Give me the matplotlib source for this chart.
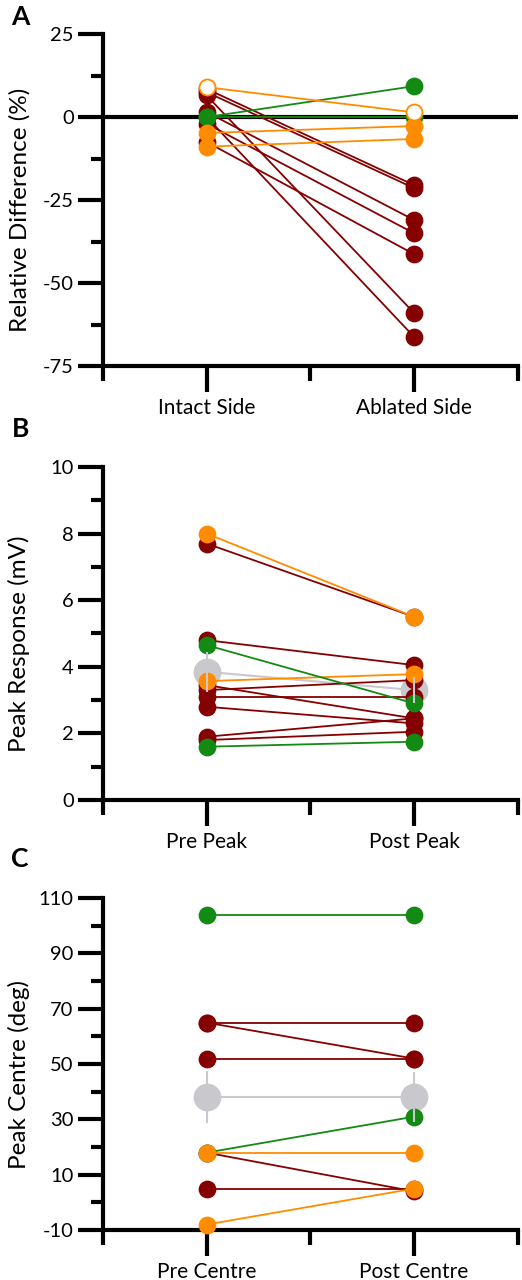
import matplotlib.pyplot as plt
from matplotlib.ticker import FixedLocator

plt.rcParams['font.family'] = ['Lato', 'DejaVu Sans']
plt.rcParams['axes.unicode_minus'] = False

RED = '#850000'
ORANGE = '#ff8c00'
GREEN = '#138a13'
GREY = '#c9c8cc'
COLORS = {'r': RED, 'o': ORANGE, 'w': ORANGE, 'g': GREEN}

# Panel A: relative difference (%)
a_labels = ['Intact Side', 'Ablated Side']
a_kind = ['r', 'r', 'r', 'r', 'r', 'r', 'r', 'g', 'g', 'o', 'o', 'w']
a_pre = [8.5, 7.5, 6.5, 1.5, 0.0, -2.0, -7.5, 0.0, 0.0, -4.8, -8.9, 9.0]
a_post = [-20.5, -21.4, -59.0, -31.0, -66.2, -35.0, -41.3, 9.3, 0.0, -2.7, -6.6, 1.4]

# Panel B: peak response (mV)
b_labels = ['Pre Peak', 'Post Peak']
b_kind = ['r', 'r', 'r', 'r', 'r', 'r', 'r', 'r', 'o', 'o', 'g', 'g']
b_pre = [7.7, 4.8, 3.3, 3.1, 3.45, 2.8, 1.9, 1.8, 8.0, 3.57, 4.65, 1.6]
b_post = [5.5, 4.05, 3.6, 3.1, 2.45, 2.3, 2.45, 2.05, 5.5, 3.78, 2.9, 1.75]
b_mean = [3.85, 3.3]
b_sem = [0.6, 0.4]

# Panel C: peak centre (deg)
c_labels = ['Pre Centre', 'Post Centre']
c_kind = ['r', 'r', 'r', 'r', 'r', 'g', 'g', 'o', 'o']
c_pre = [65, 65, 52, 18, 5, 104, 18, 18, -8]
c_post = [65, 52, 52, 4, 5, 104, 31, 18, 5]
c_mean = [38, 38]
c_sem = [9.4, 9.0]


def draw_panel(ax, pre, post, kind, labels, ylabel, ylim, major, minor,
               mean=None, sem=None, zero_line=False):
    if zero_line:
        ax.axhline(0, color='black', lw=3, zorder=1)
    if mean is not None:
        ax.plot([1, 2], mean, color=GREY, lw=1.5, marker='o', ms=19,
                zorder=2, clip_on=False)
        ax.errorbar([1, 2], mean, yerr=sem, fmt='none', ecolor=GREY,
                    elinewidth=1.5, capsize=0, zorder=10)
    for i, k in enumerate(kind):
        col = COLORS[k]
        face = 'white' if k == 'w' else col
        ax.plot([1, 2], [pre[i], post[i]], color=col, lw=1.3, marker='o',
                ms=11.5, mfc=face, mec=col, mew=1.3, zorder=3, clip_on=False)
    ax.set_xlim(0.5, 2.5)
    ax.set_ylim(*ylim)
    ax.set_xticks([1, 2])
    ax.set_xticklabels(labels, fontsize=15)
    ax.xaxis.set_minor_locator(FixedLocator([0.5, 1.5, 2.5]))
    ax.yaxis.set_major_locator(FixedLocator(major))
    ax.yaxis.set_minor_locator(FixedLocator(minor))
    ax.tick_params(axis='y', which='major', length=18, width=3, labelsize=14.5, pad=3)
    ax.tick_params(axis='y', which='minor', length=9, width=3)
    ax.tick_params(axis='x', which='major', length=19, width=3, pad=4)
    ax.tick_params(axis='x', which='minor', length=11, width=3)
    for s in ['top', 'right']:
        ax.spines[s].set_visible(False)
    for s in ['left', 'bottom']:
        ax.spines[s].set_linewidth(3)
    ax.set_ylabel(ylabel, fontsize=17.5)
    ax.yaxis.set_label_coords(-0.175, 0.47)


fig = plt.figure(figsize=(5.22, 12.8), dpi=100)
ax_a = fig.add_axes([0.197, 0.714, 0.795, 0.2594])
ax_b = fig.add_axes([0.197, 0.375, 0.795, 0.2602])
ax_c = fig.add_axes([0.197, 0.039, 0.795, 0.2593])

draw_panel(ax_a, a_pre, a_post, a_kind, a_labels, 'Relative Difference (%)',
           (-75, 25), [-75, -50, -25, 0, 25], [-62.5, -37.5, -12.5, 12.5],
           zero_line=True)
draw_panel(ax_b, b_pre, b_post, b_kind, b_labels, 'Peak Response (mV)',
           (0, 10), [0, 2, 4, 6, 8, 10], [1, 3, 5, 7, 9],
           mean=b_mean, sem=b_sem)
draw_panel(ax_c, c_pre, c_post, c_kind, c_labels, 'Peak Centre (deg)',
           (-10, 110), [-10, 10, 30, 50, 70, 90, 110], [0, 20, 40, 60, 80, 100],
           mean=c_mean, sem=c_sem)

for letter, y in [('A', 0.996), ('B', 0.674), ('C', 0.338)]:
    fig.text(0.022, y, letter, fontsize=19, fontweight='bold', va='top')

fig.savefig('out.png', dpi=100)
